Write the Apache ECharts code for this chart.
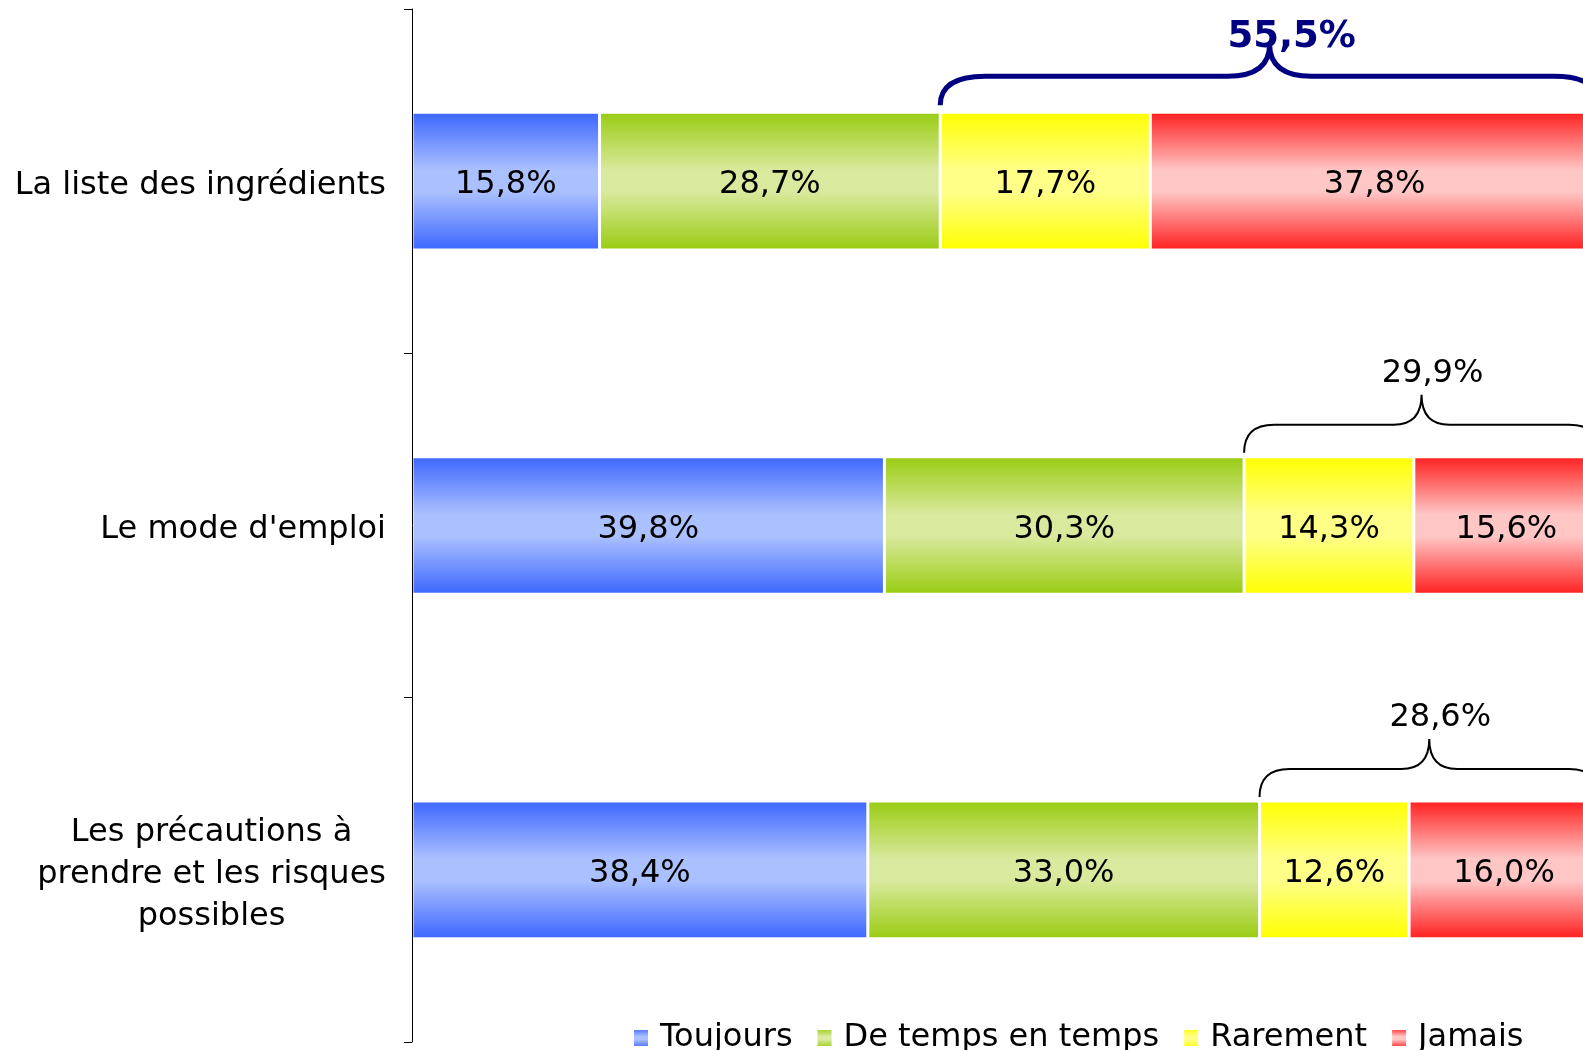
<!DOCTYPE html>
<html>
<head>
<meta charset="utf-8">
<script src="https://cdn.jsdelivr.net/npm/echarts@6/dist/echarts.min.js"></script>
<style>
  html, body { margin: 0; padding: 0; background: #fff; }
  #main { width: 1583px; height: 1050px; }
</style>
</head>
<body>
<div id="main"></div>
<script>
var categories = ['La liste des ingrédients', "Le mode d'emploi", 'Les précautions à\nprendre et les risques\npossibles'];
var seriesNames = ['Toujours', 'De temps en temps', 'Rarement', 'Jamais'];
var toujours = [15.8, 39.8, 38.4];
var deTemps = [28.7, 30.3, 33.0];
var rarement = [17.7, 14.3, 12.6];
var jamais = [37.8, 15.6, 16.0];
// total "Rarement + Jamais" shown above each bar
var braceTotals = [55.5, 29.9, 28.6];

var FONT = 'DejaVu Sans';

function fmt(v) {
    return v.toFixed(1).replace('.', ',') + '%';
}

// gradient dark -> light -> dark, like the original office chart
function grad(dark, light) {
    return new echarts.graphic.LinearGradient(0, 0, 0, 1, [
        { offset: 0, color: dark },
        { offset: 0.42, color: light },
        { offset: 0.58, color: light },
        { offset: 1, color: dark }
    ]);
}

var colors = [
    grad('#3c66ff', '#abc0ff'),
    grad('#99cc11', '#d9e99d'),
    grad('#ffff00', '#ffff88'),
    grad('#ff1f1f', '#ffc6c6')
];

function barSeries(name, values, color) {
    return {
        name: name,
        type: 'bar',
        stack: 'total',
        barCategoryGap: '60%',
        data: values,
        itemStyle: { color: color, borderColor: '#fff', borderWidth: 1.5 },
        label: {
            show: true,
            position: 'inside',
            offset: [0, 4],
            color: '#000',
            fontFamily: FONT,
            fontSize: 32,
            formatter: function (p) { return fmt(p.value); }
        }
    };
}

// brace data: [start %, end %, category index, total]
var braceData = braceTotals.map(function (t, i) {
    return [toujours[i] + deTemps[i], 100, i, t];
});

function braceRenderer(heavy) {
    return function (params, api) {
        var c = api.value(2);
        var a = api.coord([api.value(0), c]);
        var b = api.coord([api.value(1), c]);
        var barH = api.size([0, 1])[1] * 0.4;
        var top = a[1] - barH / 2;
        var yb = top - (heavy ? 7 : 4);
        var yh = top - (heavy ? 36 : 32);
        var yp = top - (heavy ? 68 : 62);
        var x0 = a[0], x1 = b[0], xm = (x0 + x1) / 2;
        var r = heavy ? 45 : 30, cw = heavy ? 42 : 28;
        var d = 'M' + x0 + ' ' + yb +
            ' Q' + x0 + ' ' + yh + ' ' + (x0 + r) + ' ' + yh +
            ' L' + (xm - cw) + ' ' + yh +
            ' Q' + xm + ' ' + yh + ' ' + xm + ' ' + yp +
            ' Q' + xm + ' ' + yh + ' ' + (xm + cw) + ' ' + yh +
            ' L' + (x1 - r) + ' ' + yh +
            ' Q' + x1 + ' ' + yh + ' ' + x1 + ' ' + yb;
        return {
            type: 'group',
            children: [
                {
                    type: 'path',
                    shape: { pathData: d },
                    style: { fill: 'none', stroke: heavy ? '#000080' : '#000', lineWidth: heavy ? 5 : 2 }
                },
                {
                    type: 'text',
                    x: xm + (heavy ? 22 : 11),
                    y: heavy ? yp - 7 : yp - 21,
                    style: {
                        text: fmt(api.value(3)),
                        fill: heavy ? '#000080' : '#000',
                        fontFamily: FONT,
                        fontSize: heavy ? 37 : 32,
                        fontWeight: heavy ? 'bold' : 'normal',
                        align: 'center',
                        verticalAlign: 'middle'
                    }
                }
            ]
        };
    };
}

var option = {
    animation: false,
    backgroundColor: '#fff',
    // the 100 % end of the bars lies just outside the picture, as in the original crop
    grid: { left: 412, width: 1187, top: 9, bottom: 8, containLabel: false, outerBoundsMode: 'none' },
    legend: {
        data: seriesNames,
        left: 627,
        top: 1017,
        icon: 'rect',
        itemWidth: 16,
        itemHeight: 18,
        itemGap: 23,
        textStyle: { fontFamily: FONT, fontSize: 32, color: '#000', padding: [0, 0, 0, 6] }
    },
    xAxis: {
        type: 'value',
        min: 0,
        max: 100,
        show: false
    },
    yAxis: {
        type: 'category',
        inverse: true,
        z: 10,
        data: categories,
        axisLine: { show: true, lineStyle: { color: '#000', width: 1 } },
        axisTick: { show: true, length: 8, lineStyle: { color: '#000' } },
        axisLabel: {
            margin: 26,
            color: '#000',
            fontFamily: FONT,
            fontSize: 32,
            lineHeight: 42,
            padding: [9, 0, 0, 0],
            formatter: function (v) {
                return v.split('\n').map(function (s) { return '{c|' + s + '}'; }).join('\n');
            },
            rich: { c: { align: 'center', fontFamily: FONT, fontSize: 32, lineHeight: 42, color: '#000' } }
        },
        splitLine: { show: false }
    },
    series: [
        barSeries(seriesNames[0], toujours, colors[0]),
        barSeries(seriesNames[1], deTemps, colors[1]),
        barSeries(seriesNames[2], rarement, colors[2]),
        barSeries(seriesNames[3], jamais, colors[3]),
        {
            type: 'custom',
            coordinateSystem: 'cartesian2d',
            clip: false,
            silent: true,
            data: braceData.slice(0, 1),
            encode: { x: [0, 1], y: 2 },
            renderItem: braceRenderer(true),
            z: 5
        },
        {
            type: 'custom',
            coordinateSystem: 'cartesian2d',
            clip: false,
            silent: true,
            data: braceData.slice(1),
            encode: { x: [0, 1], y: 2 },
            renderItem: braceRenderer(false),
            z: 5
        }
    ]
};

var chart = echarts.init(document.getElementById('main'));
chart.setOption(option);
</script>
</body>
</html>
